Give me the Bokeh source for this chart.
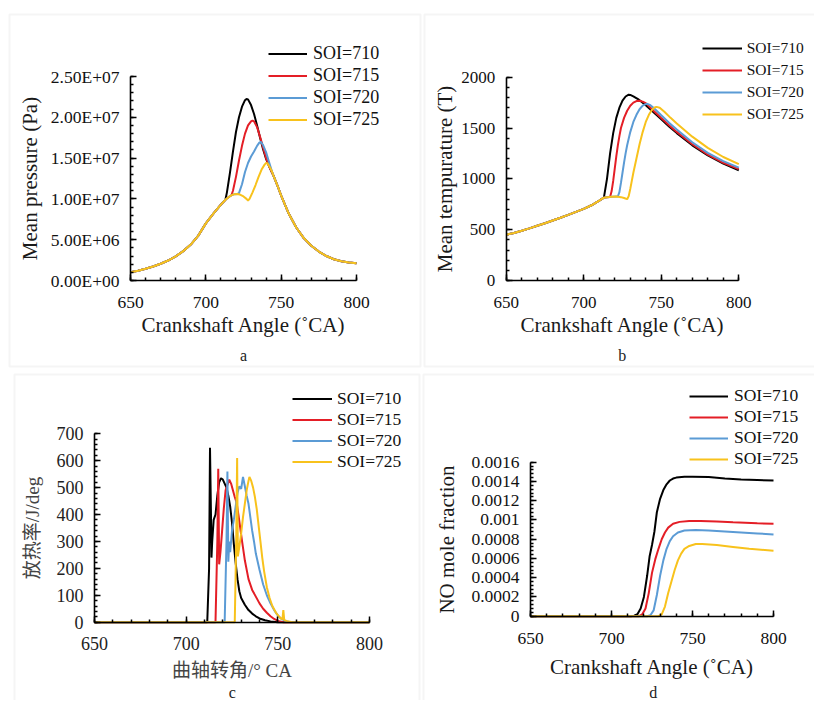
from bokeh.plotting import figure
from bokeh.models import (Range1d, SingleIntervalTicker, CustomJSTickFormatter, Legend,
                          LegendItem, Label, LinearAxis, BoxAnnotation)
from bokeh.embed import file_html
from bokeh.resources import INLINE

SERIES = ["SOI=710", "SOI=715", "SOI=720", "SOI=725"]
COLORS = ["#000000", "#e41e26", "#5b9bd5", "#f8c21c"]

# ---------------- Panel a: mean pressure (Pa) ----------------
A_COMMON_X = [650, 655, 660, 665, 670, 675, 680, 685, 690, 695, 700, 705, 710, 713]
A_COMMON_Y = [1.0e6, 1.2e6, 1.45e6, 1.72e6, 2.05e6, 2.45e6, 2.95e6, 3.6e6, 4.4e6, 5.5e6,
              7.0e6, 8.2e6, 9.3e6, 9.9e6]
A710_X = [714, 716, 718, 720, 722, 724, 726, 727, 728, 730, 732, 734, 736, 738, 740, 742, 744]
A710_Y = [1.08e7, 1.32e7, 1.58e7, 1.82e7, 2.0e7, 2.13e7, 2.21e7, 2.225e7, 2.22e7, 2.15e7,
          2.04e7, 1.9e7, 1.75e7, 1.61e7, 1.49e7, 1.4e7, 1.32e7]
A715_X = [715, 717, 718, 720, 722, 724, 726, 728, 730, 731, 732, 734, 736, 738, 740, 742, 744]
A715_Y = [1.02e7, 1.045e7, 1.1e7, 1.27e7, 1.47e7, 1.65e7, 1.8e7, 1.9e7, 1.95e7, 1.96e7,
          1.95e7, 1.88e7, 1.76e7, 1.63e7, 1.5e7, 1.4e7, 1.32e7]
A720_X = [715, 717, 719, 721, 722, 724, 726, 728, 730, 732, 734, 735.5, 736.5, 738, 740, 742, 744]
A720_Y = [1.02e7, 1.045e7, 1.058e7, 1.06e7, 1.07e7, 1.18e7, 1.33e7, 1.44e7, 1.52e7, 1.58e7,
          1.65e7, 1.69e7, 1.7e7, 1.66e7, 1.57e7, 1.45e7, 1.33e7]
A725_X = [715, 717, 719, 721, 723, 725, 727, 728, 729, 731, 733, 735, 737, 739, 740, 741, 743, 744]
A725_Y = [1.02e7, 1.045e7, 1.058e7, 1.06e7, 1.05e7, 1.03e7, 1.0e7, 9.8e6, 1.0e7, 1.08e7,
          1.17e7, 1.27e7, 1.36e7, 1.42e7, 1.44e7, 1.435e7, 1.37e7, 1.33e7]
A_TAIL_X = [745, 748, 750, 755, 760, 765, 770, 775, 780, 785, 790, 795, 800]
A_TAIL_Y = [1.28e7, 1.14e7, 1.04e7, 8.2e6, 6.5e6, 5.2e6, 4.25e6, 3.55e6, 3.0e6, 2.6e6,
            2.35e6, 2.2e6, 2.1e6]

# ---------------- Panel b: mean temperature (T) ----------------
B_COMMON_X = [650, 655, 660, 665, 670, 675, 680, 685, 690, 695, 700, 705, 710, 713]
B_COMMON_Y = [450, 468, 490, 513, 538, 563, 590, 617, 645, 675, 705, 740, 785, 815]
B710_X = [715, 717, 719, 721, 723, 725, 727, 729, 730, 732, 735, 740, 745, 750, 755, 760,
          770, 780, 790, 800]
B710_Y = [1000, 1250, 1450, 1600, 1700, 1770, 1810, 1828, 1826, 1812, 1785, 1725, 1655, 1585,
          1515, 1450, 1330, 1230, 1150, 1085]
B715_X = [715, 717, 718, 719, 720, 721, 722, 723, 724, 726, 728, 730, 732, 734, 736, 738, 740,
          745, 750, 755, 760, 770, 780, 790, 800]
B715_Y = [820, 822, 880, 980, 1100, 1220, 1330, 1420, 1500, 1600, 1670, 1720, 1750, 1765, 1768,
          1760, 1745, 1670, 1598, 1528, 1462, 1340, 1238, 1158, 1095]
B720_X = [715, 718, 721, 722, 723, 724, 725, 726, 727, 728, 730, 732, 734, 736, 738, 740, 741,
          743, 745, 750, 755, 760, 770, 780, 790, 800]
B720_Y = [820, 824, 826, 826, 870, 960, 1060, 1160, 1250, 1330, 1460, 1560, 1630, 1685, 1720,
          1735, 1738, 1725, 1700, 1625, 1552, 1485, 1360, 1255, 1175, 1110]
B725_X = [715, 718, 721, 724, 726, 728, 729, 730, 731, 732, 734, 736, 738, 740, 742, 744, 746,
          747, 749, 752, 756, 760, 770, 780, 790, 800]
B725_Y = [820, 824, 826, 820, 812, 800, 830, 900, 980, 1060, 1200, 1340, 1460, 1560, 1630, 1680,
          1705, 1708, 1700, 1660, 1600, 1545, 1415, 1305, 1215, 1145]

# ---------------- Panel c: heat release rate (J/deg) ----------------
C710_X = [650, 711.5, 712.5, 713, 713.5, 713.8, 714.2, 715, 716, 717, 718, 719, 720, 721, 722,
          723, 724, 725, 726, 727, 728, 729, 730, 732, 734, 736, 738, 740, 743, 746, 750, 800]
C710_Y = [0, 0, 200, 648, 420, 240, 300, 380, 400, 470, 520, 535, 530, 515, 500, 470, 430, 370,
          290, 220, 160, 115, 90, 65, 45, 32, 22, 14, 7, 3, 0, 0]
C715_X = [650, 716, 717, 717.5, 718, 718.7, 719.5, 720.5, 721.5, 722.5, 723.5, 724.5, 725.5,
          726.5, 727.5, 728.5, 729.5, 730.5, 732, 734, 736, 738, 740, 742, 744, 746, 748, 750,
          753, 800]
C715_Y = [0, 0, 300, 570, 215, 260, 330, 420, 490, 510, 530, 515, 490, 465, 445, 400, 350, 300,
          230, 160, 120, 95, 70, 50, 35, 22, 12, 5, 0, 0]
C720_X = [650, 721, 722, 722.5, 723, 723.5, 724, 725, 726, 727, 728, 729, 730, 731, 732, 733,
          734, 735, 736, 737, 738, 740, 742, 744, 746, 748, 750, 752, 754, 757, 800]
C720_Y = [0, 0, 300, 560, 225, 300, 260, 340, 380, 430, 480, 505, 495, 540, 505, 470, 440, 390,
          340, 300, 255, 195, 140, 100, 70, 45, 25, 12, 5, 0, 0]
C725_X = [650, 726.5, 727.3, 727.8, 728.2, 729, 730, 731, 732, 733, 734, 734.5, 735.5, 736.5,
          737.5, 738.5, 739.5, 740.5, 741.5, 742.5, 744, 745.5, 747, 749, 751, 752.5, 753,
          753.5, 755, 758, 800]
C725_Y = [0, 0, 300, 610, 245, 280, 330, 390, 440, 490, 525, 540, 525, 500, 465, 420, 360, 300,
          240, 190, 130, 90, 60, 35, 18, 10, 45, 8, 4, 0, 0]

# ---------------- Panel d: NO mole fraction ----------------
D710_X = [650, 712, 714, 716, 718, 720, 722, 723.5, 725, 726.5, 728, 730, 732, 734, 736, 738,
          740, 745, 750, 760, 770, 780, 790, 800]
D710_Y = [0, 0, 0.000005, 0.00002, 0.00008, 0.0002, 0.00042, 0.00062, 0.00074, 0.00088,
          0.00108, 0.00122, 0.00131, 0.00137, 0.00141, 0.00143, 0.00144, 0.00145, 0.00145,
          0.001445, 0.00143, 0.00142, 0.001415, 0.00141]
D715_X = [650, 717, 719, 721, 723, 725, 727, 729, 731, 733, 735, 738, 742, 748, 755, 765, 775,
          790, 800]
D715_Y = [0, 0, 0.00002, 0.00008, 0.00024, 0.00045, 0.00059, 0.0007, 0.0008, 0.00087, 0.00092,
          0.00096, 0.00098, 0.00099, 0.00099, 0.000985, 0.000975, 0.000965, 0.00096]
D720_X = [650, 722, 724, 726, 728, 730, 732, 734, 736, 738, 741, 745, 752, 760, 770, 780, 790,
          800]
D720_Y = [0, 0, 0.00001, 0.00006, 0.00022, 0.00042, 0.00058, 0.0007, 0.00078, 0.00083, 0.00087,
          0.00089, 0.000895, 0.00089, 0.00088, 0.00087, 0.00086, 0.00085]
D725_X = [650, 729, 731, 733, 735, 737, 739, 741, 743, 745, 748, 752, 756, 765, 775, 785, 800]
D725_Y = [0, 0, 0.00002, 0.0001, 0.00024, 0.00036, 0.00048, 0.00058, 0.00065, 0.0007, 0.00073,
          0.00075, 0.00075, 0.00074, 0.00072, 0.0007, 0.00068]

SERIF = "Liberation Serif"
CJK = "'Liberation Serif', 'Noto Sans CJK SC'"
BORDER_COLOR = "#dedede"

SCI_CODE = """
if (Math.abs(tick) < 1e-12) return "0.00E+00";
const e = Math.floor(Math.log10(Math.abs(tick)) + 1e-9);
const m = tick / Math.pow(10, e);
return m.toFixed(2) + "E" + (e < 0 ? "-" : "+") + String(Math.abs(e)).padStart(2, "0");
"""
GEN_CODE = """
if (Math.abs(tick) < 1e-12) return "0";
return String(parseFloat(tick.toPrecision(6)));
"""

# Canvas covers page pixels 0..814 (x) and 0..700 (y); the frame covers the whole canvas.
W, H = 814, 700
X0, Y0 = 0, 0


def xrange_for(px0, px1, v0, v1):
    # px0/px1: page x of v0/v1
    s = (px1 - px0) / (v1 - v0)
    return Range1d(v0 - (px0 - X0) / s, v1 + (X0 + W - px1) / s)


def yrange_for(py0, py1, v0, v1):
    # py0/py1: page y (downwards) of v0/v1
    s = (py0 - py1) / (v1 - v0)
    return Range1d(v0 - (Y0 + H - py0) / s, v1 + (py1 - Y0) / s)


p = figure(width=W, height=H, x_range=Range1d(X0, X0 + W), y_range=Range1d(Y0 + H, Y0),
           x_axis_type=None, y_axis_type=None, output_backend="svg",
           toolbar_location=None, min_border=0)
p.grid.visible = False
p.outline_line_color = None
p.background_fill_color = "white"
p.border_fill_color = "white"

p.extra_x_ranges = {
    "a": xrange_for(130, 356, 650, 800),
    "b": xrange_for(505.7, 738.3, 650, 800),
    "c": xrange_for(94, 369, 650, 800),
    "d": xrange_for(530, 773, 650, 800),
}
p.extra_y_ranges = {
    "a": yrange_for(280, 76, 0, 2.5e7),
    "b": yrange_for(280, 76.7, 0, 2000),
    "c": yrange_for(621.7, 433.3, 0, 700),
    "d": yrange_for(615.7, 461.7, 0, 0.0016),
}

# panel frames (light grey borders), in page pixels
for l, r, t, b in [(9, 420, 14, 366), (424, 830, 14, 366), (14, 419, 374, 720),
                   (423, 830, 374, 720)]:
    p.add_layout(BoxAnnotation(left=l, right=r, top=t, bottom=b, fill_alpha=0,
                               line_color=BORDER_COLOR, line_width=2))


def style_axis(ax, tick_fs, title_fs, title_font, title_color, tick_color):
    ax.axis_line_width = 1.6
    ax.axis_line_color = "#000000"
    ax.major_tick_line_width = 1.5
    ax.minor_tick_line_width = 1.5
    ax.major_tick_in = 6
    ax.major_tick_out = 0
    ax.minor_tick_in = 3
    ax.minor_tick_out = 0
    ax.major_label_text_font = SERIF
    ax.major_label_text_font_size = tick_fs
    ax.major_label_text_color = tick_color
    ax.axis_label_text_font = title_font
    ax.axis_label_text_font_size = title_fs
    ax.axis_label_text_font_style = "normal"
    ax.axis_label_text_color = title_color


def panel(name, ymax, yint, xlabel, ylabel, tick_fs, title_fs, xt_so, xl_so, yl_so,
          xs, ys, fmt=None, title_font=SERIF, title_color="#1a1a1a", tick_color="#111111"):
    xa = LinearAxis(x_range_name=name, y_range_name=name, fixed_location=0,
                    bounds=(650, 800), ticker=SingleIntervalTicker(interval=50, num_minor_ticks=5),
                    axis_label=xlabel, major_label_standoff=xt_so, axis_label_standoff=xl_so)
    ya = LinearAxis(x_range_name=name, y_range_name=name, fixed_location=650,
                    bounds=(0, ymax),
                    ticker=SingleIntervalTicker(interval=yint, num_minor_ticks=5),
                    axis_label=ylabel, major_label_standoff=11, axis_label_standoff=yl_so)
    if fmt is not None:
        ya.formatter = CustomJSTickFormatter(code=fmt)
    style_axis(xa, tick_fs, title_fs, title_font, title_color, tick_color)
    style_axis(ya, tick_fs, title_fs, title_font, title_color, tick_color)
    p.add_layout(xa, "below")
    p.add_layout(ya, "left")
    rs = []
    for x, y, c in zip(xs, ys, COLORS):
        rs.append(p.line(x, y, line_color=c, line_width=2, x_range_name=name,
                         y_range_name=name))
    return rs


def add_legend(rs, left_page, bottom_page, fs, gw, gh, spacing, standoff):
    items = [LegendItem(label=s, renderers=[r]) for s, r in zip(SERIES, rs)]
    lg = Legend(items=items, location=(left_page - X0, Y0 + H - bottom_page),
                orientation="vertical", glyph_width=gw, glyph_height=gh, label_height=gh,
                spacing=spacing, label_standoff=standoff, padding=0, margin=0,
                border_line_alpha=0, background_fill_alpha=0, label_text_font=SERIF,
                label_text_font_size=fs, label_text_color="#111111")
    p.add_layout(lg)


def add_tag(text, x, y):
    p.add_layout(Label(x=x, y=y, text=text, text_align="center",
                       text_baseline="alphabetic", text_font=SERIF, text_font_size="16px",
                       text_color="#222222"))


ra = panel("a", 2.5e7, 5e6, "Crankshaft Angle (˚CA)", "Mean pressure (Pa)", "17.5px", "21px",
           16, 2, 6,
           [A_COMMON_X + A710_X + A_TAIL_X, A_COMMON_X + A715_X + A_TAIL_X,
            A_COMMON_X + A720_X + A_TAIL_X, A_COMMON_X + A725_X + A_TAIL_X],
           [A_COMMON_Y + A710_Y + A_TAIL_Y, A_COMMON_Y + A715_Y + A_TAIL_Y,
            A_COMMON_Y + A720_Y + A_TAIL_Y, A_COMMON_Y + A725_Y + A_TAIL_Y], fmt=SCI_CODE)
add_legend(ra, 268, 129.5, "18px", 39, 21, 1, 6)
add_tag("a", 243, 355)

rb = panel("b", 2000, 500, "Crankshaft Angle (˚CA)", "Mean tempurature (T)", "17px", "21px",
           16, 2, 2,
           [B_COMMON_X + B710_X, B_COMMON_X + B715_X, B_COMMON_X + B720_X, B_COMMON_X + B725_X],
           [B_COMMON_Y + B710_Y, B_COMMON_Y + B715_Y, B_COMMON_Y + B720_Y, B_COMMON_Y + B725_Y])
add_legend(rb, 701.7, 125, "15.5px", 40, 22, 0, 5)
add_tag("b", 621.7, 355)

rc = panel("c", 700, 100, "曲轴转角/° CA", "放热率/J/deg", "18px", "19px", 15, 6, 11,
           [C710_X, C715_X, C720_X, C725_X], [C710_Y, C715_Y, C720_Y, C725_Y],
           title_font=CJK, title_color="#444444", tick_color="#222222")
add_legend(rc, 292, 471.5, "17.5px", 40, 21, 0, 5)
add_tag("c", 231.7, 692)

rd = panel("d", 0.0016, 0.0002, "Crankshaft Angle (˚CA)", "NO mole fraction", "17.5px", "21px",
           17, 7, 9,
           [D710_X, D715_X, D720_X, D725_X], [D710_Y, D715_Y, D720_Y, D725_Y], fmt=GEN_CODE)
add_legend(rd, 689, 469, "17.5px", 39, 20, 0, 6)
add_tag("d", 652.7, 692)

open("out.html", "w").write(file_html(p, INLINE))
